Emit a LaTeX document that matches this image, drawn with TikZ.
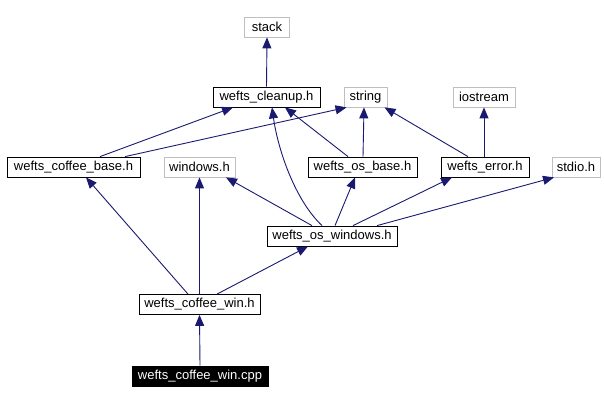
\documentclass[tikz,border=0pt]{standalone}
\usepackage{fontspec}
\setmainfont{Liberation Sans}
\usetikzlibrary{arrows.meta}
\definecolor{edgeblue}{RGB}{25,25,112}
\definecolor{boxgrey}{RGB}{191,191,191}
\tikzset{
  hdr/.style={draw=black,line width=0.8pt,minimum height=20pt,inner sep=0pt,font=\fontsize{13}{15}\selectfont},
  sys/.style={hdr,draw=boxgrey},
  src/.style={hdr,fill=black,text=white},
  dep/.style={draw=edgeblue,line width=0.9pt,-{Triangle[length=11pt,width=9pt]}}
}
\begin{document}
\begin{tikzpicture}[x=1pt,y=-1pt]
\useasboundingbox (0,0) rectangle (604,401);

\node [sys,minimum width=45pt] (stack) at (267,27) {stack};
\node [hdr,minimum width=107pt] (cleanup) at (266.5,97) {wefts\_cleanup.h};
\node [sys,minimum width=43pt] (string) at (365.5,97) {string};
\node [sys,minimum width=62pt] (iostream) at (484,97) {iostream};

\node [hdr,minimum width=133pt] (cbase) at (73.5,167) {wefts\_coffee\_base.h};
\node [sys,minimum width=71pt] (windows) at (199.5,167) {windows.h};
\node [hdr,minimum width=109pt] (osbase) at (362.5,167) {wefts\_os\_base.h};
\node [hdr,minimum width=88pt] (error) at (485,167) {wefts\_error.h};
\node [sys,minimum width=48pt] (stdio) at (576,167) {stdio.h};

\node [hdr,minimum width=130pt] (oswin) at (332,236) {wefts\_os\_windows.h};
\node [hdr,minimum width=121pt] (cwin) at (199.5,304.5) {wefts\_coffee\_win.h};
\node [src,minimum width=136pt] (cpp) at (200,376) {wefts\_coffee\_win.cpp};

\draw [dep] (cleanup.north) -- (stack.south);
\draw [dep] ([xshift=26.5pt]cbase.north) -- ([xshift=-33.5pt]cleanup.south);
\draw [dep] ([xshift=51.5pt]cbase.north) -- ([xshift=-19pt]string.south);
\draw [dep] ([xshift=-14.5pt]osbase.north) -- ([xshift=18.5pt]cleanup.south);
\draw [dep] ([xshift=0.5pt]osbase.north) -- ([xshift=-1.5pt]string.south);
\draw [dep] ([xshift=-17pt]error.north) -- ([xshift=19pt]string.south);
\draw [dep] ([xshift=-1pt]error.north) -- (iostream.south);

\draw [dep] ([xshift=-10pt]oswin.north) .. controls (295,200) and (278,150) .. ([xshift=5.5pt]cleanup.south);
\draw [dep] ([xshift=-20pt]oswin.north) -- ([xshift=26.5pt]windows.south);
\draw [dep] ([xshift=3pt]oswin.north) -- ([xshift=-7.5pt]osbase.south);
\draw [dep] ([xshift=21pt]oswin.north) -- ([xshift=-33pt]error.south);
\draw [dep] ([xshift=45pt]oswin.north) -- ([xshift=-22pt]stdio.south);

\draw [dep] ([xshift=-11.5pt]cwin.north) -- ([xshift=12.5pt]cbase.south);
\draw [dep] (cwin.north) -- (windows.south);
\draw [dep] ([xshift=17.5pt]cwin.north) -- ([xshift=-24pt]oswin.south);
\draw [dep] (cpp.north) -- (cwin.south);

\end{tikzpicture}
\end{document}
